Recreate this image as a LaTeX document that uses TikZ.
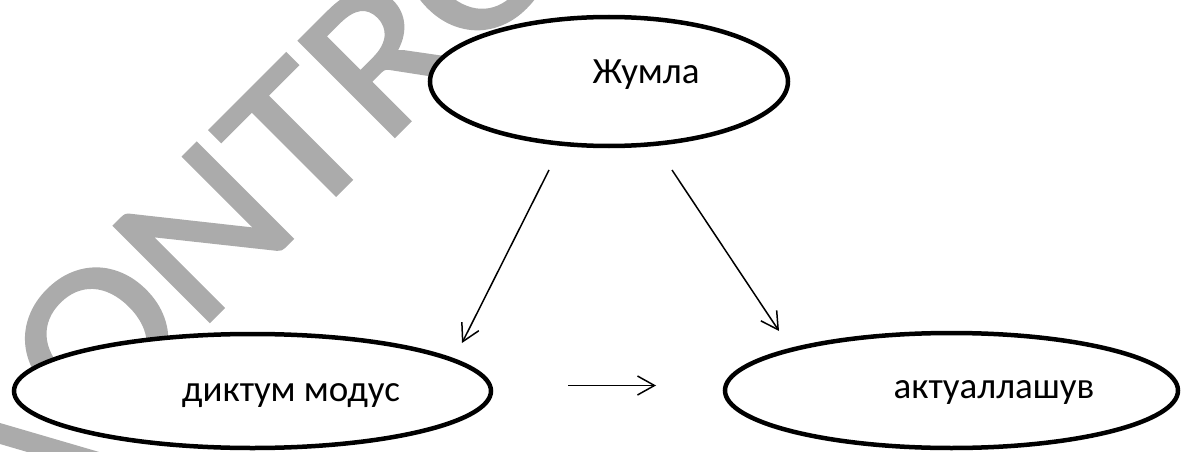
\documentclass[tikz,border=0pt]{standalone}
\usepackage{fontspec}
\setmainfont{Carlito}
\newfontfamily\wmfont{Carlito}[FakeBold=1.5]
\usetikzlibrary{shapes.geometric,arrows.meta}
\definecolor{wm}{RGB}{171,171,171}
\tikzset{
  bubble/.style={ellipse, draw=black, line width=4.5pt, fill=white, inner sep=0pt},
  lbl/.style={inner sep=0pt, anchor=base, font=\fontsize{37}{44}\selectfont},
  conn/.style={line width=1.5pt, -{Straight Barb[length=17pt,width=19pt]}},
}
\begin{document}
\begin{tikzpicture}[x=1pt,y=-1pt]
\useasboundingbox (0,0) rectangle (1181,452);
\begin{scope}
\clip (0,0) rectangle (1181,452);
\fill[wm] (0,423) -- (130,461) -- (130,482) -- (0,444) -- cycle;
\begin{scope}[shift={(90,441)}, rotate=45, xscale=1.1]
\node[transform shape, anchor=base west, inner sep=0pt, text=wm,
      font=\wmfont\fontsize{210}{210}\selectfont] (wmark) at (0,0) {ONTROL};
\end{scope}
\end{scope}
\node[bubble, minimum width=358pt, minimum height=129pt] (top) at (609,81.5) {};
\node[bubble, minimum width=477pt, minimum height=114pt] (left) at (252.5,391) {};
\node[bubble, minimum width=453pt, minimum height=115pt] (right) at (951.5,390.5) {};
\node[lbl] (ttop) at (646,84) {Жумла};
\node[lbl] (tleft) at (291,401) {диктум модус};
\node[lbl] (tright) at (994,398) {актуаллашув};
\coordinate (a1s) at (549,170);
\coordinate (a1e) at (462,343);
\coordinate (a2s) at (672,170);
\coordinate (a2e) at (779,331);
\coordinate (a3s) at (568,385.5);
\coordinate (a3e) at (656,385.5);
\draw[conn] (a1s) -- (a1e);
\draw[conn] (a2s) -- (a2e);
\draw[conn] (a3s) -- (a3e);
\end{tikzpicture}
\end{document}
